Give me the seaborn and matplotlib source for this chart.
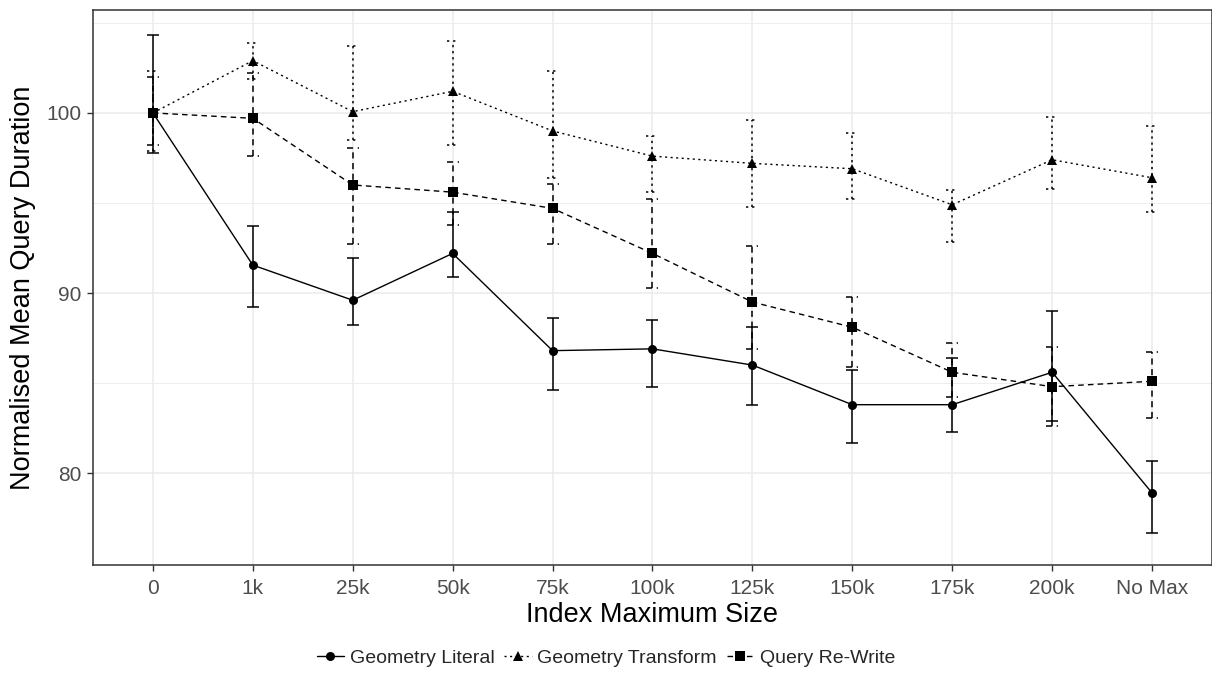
import numpy as np
import pandas as pd
import matplotlib
matplotlib.use("Agg")
import matplotlib.pyplot as plt
import seaborn as sns

categories = ["0", "1k", "25k", "50k", "75k", "100k", "125k", "150k", "175k", "200k", "No Max"]

literal_mean = [100.0, 91.55, 89.6, 92.2, 86.8, 86.9, 86.0, 83.8, 83.8, 85.6, 78.9]
literal_lo   = [97.8, 89.2, 88.2, 90.9, 84.6, 84.8, 83.8, 81.7, 82.3, 82.9, 76.7]
literal_hi   = [104.3, 93.7, 91.95, 94.5, 88.6, 88.5, 88.1, 85.7, 86.4, 89.0, 80.7]

transform_mean = [100.0, 102.9, 100.07, 101.2, 99.0, 97.6, 97.2, 96.9, 94.9, 97.4, 96.4]
transform_lo   = [97.9, 101.9, 98.5, 98.2, 96.4, 95.6, 94.8, 95.2, 92.85, 95.8, 94.5]
transform_hi   = [102.3, 103.9, 103.7, 104.0, 102.3, 98.7, 99.6, 98.9, 95.7, 99.8, 99.3]

rewrite_mean = [100.0, 99.7, 96.0, 95.6, 94.7, 92.2, 89.5, 88.1, 85.6, 84.8, 85.1]
rewrite_lo   = [98.2, 97.6, 92.7, 93.8, 92.7, 90.3, 86.9, 85.9, 84.2, 82.6, 83.05]
rewrite_hi   = [102.0, 102.2, 98.05, 97.3, 96.05, 95.2, 92.6, 89.8, 87.2, 87.0, 86.7]

series_names = ["Geometry Literal", "Geometry Transform", "Query Re-Write"]

x_label = "Index Maximum Size"
y_label = "Normalised Mean Query Duration"

series = {
    "Geometry Literal": (literal_mean, literal_lo, literal_hi),
    "Geometry Transform": (transform_mean, transform_lo, transform_hi),
    "Query Re-Write": (rewrite_mean, rewrite_lo, rewrite_hi),
}

rows = []
for name in series_names:
    m, lo, hi = series[name]
    for i, c in enumerate(categories):
        rows.append({"pos": i, "cat": c, "series": name, "mean": m[i], "lo": lo[i], "hi": hi[i]})
df = pd.DataFrame(rows)

sns.set_theme(style="whitegrid")
plt.rcParams["font.family"] = ["Liberation Sans", "DejaVu Sans"]

fig = plt.figure(figsize=(12.12, 6.84), dpi=100)
ax = fig.add_axes([0.0767, 0.174, 0.9233, 0.811])

dash_styles = {
    "Geometry Literal": "",
    "Geometry Transform": (1.5, 2.5),
    "Query Re-Write": (4, 3),
}
mpl_ls = {
    "Geometry Literal": "-",
    "Geometry Transform": (0, (1.5, 2.5)),
    "Query Re-Write": (0, (4, 3)),
}
markers = {"Geometry Literal": "o", "Geometry Transform": "^", "Query Re-Write": "s"}

sns.lineplot(data=df, x="pos", y="mean", hue="series", style="series",
             hue_order=series_names, style_order=series_names,
             palette=["black"] * 3, dashes=dash_styles, markers=markers,
             markersize=6.5, markeredgewidth=0, linewidth=1.0, ax=ax, zorder=3)

cap = 0.06
for name in series_names:
    sub = df[df["series"] == name]
    ax.vlines(sub["pos"], sub["lo"], sub["hi"], colors="black",
              linestyles=[mpl_ls[name]], linewidth=1.1, zorder=3)
    ax.hlines(sub["lo"], sub["pos"] - cap, sub["pos"] + cap, colors="black",
              linestyles=[mpl_ls[name]], linewidth=1.1, zorder=3)
    ax.hlines(sub["hi"], sub["pos"] - cap, sub["pos"] + cap, colors="black",
              linestyles=[mpl_ls[name]], linewidth=1.1, zorder=3)

ax.set_xlim(-0.6, len(categories) - 1 + 0.6)
ax.set_ylim(74.9, 105.7)
ax.set_xticks(range(len(categories)))
ax.set_xticklabels(categories)
ax.set_yticks([80, 90, 100])
ax.set_yticks([85, 95, 105], minor=True)

ax.grid(True, which="major", color="#EBEBEB", linewidth=1.1)
ax.grid(True, which="minor", color="#EBEBEB", linewidth=0.6)
ax.set_axisbelow(True)
for s in ax.spines.values():
    s.set_color("#333333")
    s.set_linewidth(1.1)

ax.tick_params(axis="both", which="major", length=4, width=1.0, color="#333333",
               labelcolor="#4D4D4D", labelsize=15, pad=4, bottom=True, left=True)
ax.tick_params(axis="x", which="major", pad=6)
ax.tick_params(axis="both", which="minor", length=0)

ax.set_xlabel(x_label, fontsize=19.5, color="black", labelpad=3)
ax.set_ylabel(y_label, fontsize=19.5, color="black", labelpad=8)

handles, labels = ax.get_legend_handles_labels()
ax.legend(handles, labels, loc="center", bbox_to_anchor=(0.5, 0.038),
          bbox_transform=fig.transFigure, ncol=3, frameon=False,
          fontsize=14, handlelength=1.4, handletextpad=0.3, columnspacing=0.5)

fig.savefig("out.png", dpi=100)
